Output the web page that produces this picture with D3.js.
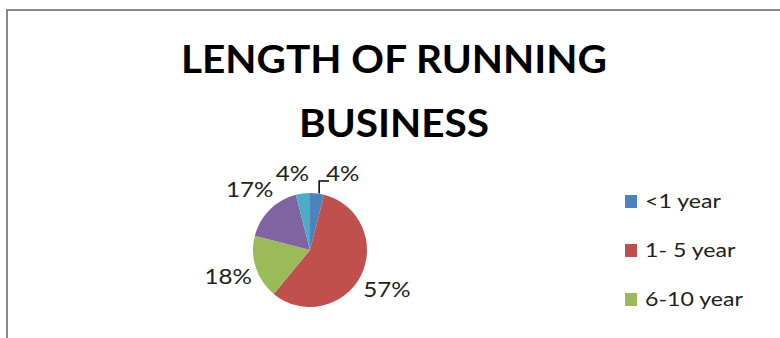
<!DOCTYPE html>
<html>
<head>
<meta charset="utf-8">
<script src="https://cdn.jsdelivr.net/npm/d3@7"></script>
<style>
  body { margin: 0; background: #fff; }
  svg { display: block; }
</style>
</head>
<body>
<script>
var categories = ["<1 year", "1- 5 year", "6-10 year", "11-15 year", "above 15 year"];
var shares = [4, 57, 18, 17, 4];
var colors = ["#4F81BD", "#C0504D", "#9BBB59", "#8064A2", "#4BACC6"];
var titleLines = ["LENGTH OF RUNNING", "BUSINESS"];

var width = 780;
var height = 338;
var font = "Lato, 'Open Sans', sans-serif";

let svg = d3.select("body")
    .append("svg")
    .attr("width", width)
    .attr("height", height);

// chart frame (bottom and right run off the picture)
svg.append("path")
    .attr("d", "M7,400V10H800")
    .attr("fill", "none")
    .attr("stroke", "#888")
    .attr("stroke-width", 2);

// text in the picture is a bit wider than the font
function stretchedText(sel, x, y, sx) {
    sel.attr("transform", "translate(" + x + "," + y + ") scale(" + sx + ",1)");
}

// title
titleLines.forEach((t, i) => {
    svg.append("text")
        .text(t)
        .call(stretchedText, 394, 73 + i * 64, 1.04)
        .attr("text-anchor", "middle")
        .attr("font-family", font)
        .attr("font-weight", "bold")
        .attr("font-size", "39px")
        .attr("fill", "#000");
});

// pie
let cx = 310, cy = 250, radius = 57;
let pie = d3.pie().sort(null).value((d) => d);
let arcs = pie(shares);
let arc = d3.arc().innerRadius(0).outerRadius(radius);

let g = svg.append("g").attr("transform", "translate(" + cx + "," + cy + ")");

g.selectAll("path")
    .data(arcs)
    .enter()
    .append("path")
    .attr("d", arc)
    .attr("fill", (d, i) => colors[i]);

// labels sit just outside the pie, then any that collide get pulled apart
let labelStretch = 1.15;
let labels = arcs.map((d, i) => {
    let mid = (d.startAngle + d.endAngle) / 2;
    let txt = d3.format(".0%")(d.value / d3.sum(shares));
    let w = txt.length * 11 * labelStretch;
    let dist = radius + 8 + Math.abs(Math.sin(mid)) * w / 2 + Math.abs(Math.cos(mid)) * 10;
    return { d: d, i: i, x: Math.sin(mid) * dist, y: -Math.cos(mid) * dist, txt: txt, w: w, leader: false };
});
labels.forEach((a) => {
    labels.forEach((b) => {
        if (a === b) return;
        let overlapX = (a.w + b.w) / 2 + 25 - Math.abs(a.x - b.x);
        if (Math.abs(a.y - b.y) < 16 && overlapX > 0 && a.x > b.x && a.i < b.i) {
            b.x -= 8;
            a.x += overlapX - 8;
            a.leader = true;
        }
    });
});

labels.forEach((l) => {
    if (l.leader) {
        let mid = (l.d.startAngle + l.d.endAngle) / 2;
        let px = Math.sin(mid) * radius + 2;
        let py = -Math.cos(mid) * radius;
        let ly = l.y + 7;
        g.append("path")
            .attr("d", "M" + px + "," + py + "V" + ly + "H" + (l.x - l.w / 2 - 1))
            .attr("fill", "none")
            .attr("stroke", "#000")
            .attr("stroke-width", 1.5);
    }
    g.append("text")
        .text(l.txt)
        .call(stretchedText, l.x, l.y, labelStretch)
        .attr("text-anchor", "middle")
        .attr("dy", "0.35em")
        .attr("font-family", font)
        .attr("font-size", "21px")
        .attr("fill", "#222");
});

// legend: like the original, entries that do not fit the frame are left out
let legendY = d3.scalePoint()
    .domain(categories)
    .range([201, 201 + 49 * (categories.length - 1)]);
let shown = categories.filter((c) => legendY(c) + 10 < height);

let legend = svg.selectAll(".legend")
    .data(shown)
    .enter()
    .append("g")
    .attr("class", "legend")
    .attr("transform", (d) => "translate(625," + legendY(d) + ")");

legend.append("rect")
    .attr("x", 0)
    .attr("y", -6)
    .attr("width", 12)
    .attr("height", 13)
    .attr("fill", (d, i) => colors[i]);

legend.append("text")
    .text((d) => d)
    .call(stretchedText, 20, 7, 1.25)
    .attr("font-family", font)
    .attr("font-size", "18.5px")
    .attr("fill", "#222");
</script>
</body>
</html>
